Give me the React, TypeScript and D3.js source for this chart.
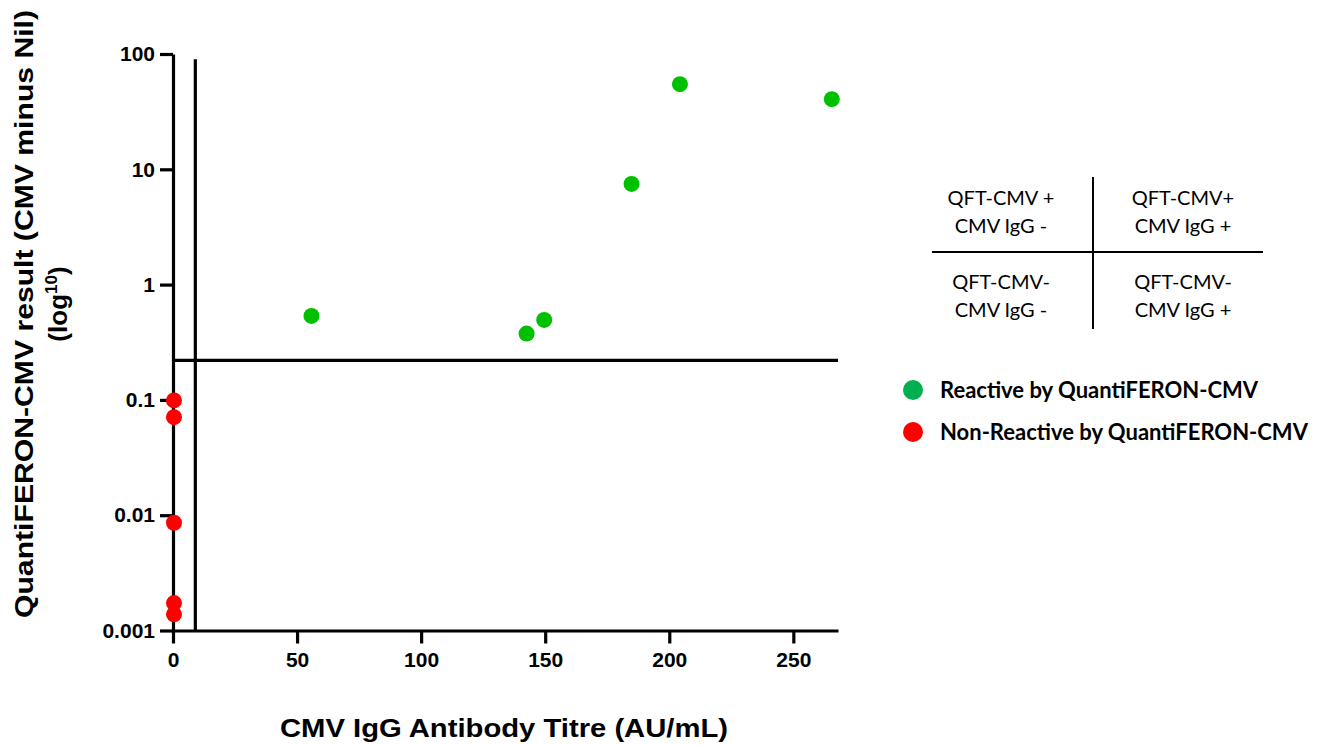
import React, { useRef, useEffect } from 'react';
import * as d3 from 'd3';

// CMV IgG titre (AU/mL) vs QuantiFERON-CMV result
const reactiveTitre = [55.8, 142.5, 149.6, 184.8, 204.3, 265.5];
const reactiveQft = [0.535, 0.376, 0.494, 7.47, 54.7, 40.6];
const nonReactiveTitre = [0.4, 0.4, 0.4, 0.4, 0.4];
const nonReactiveQft = [0.099, 0.0708, 0.0086, 0.00173, 0.00138];

const xTicks = [0, 50, 100, 150, 200, 250];
const yTicks = [100, 10, 1, 0.1, 0.01, 0.001];
const yTickLabels = ['100', '10', '1', '0.1', '0.01', '0.001'];

const qftCutoff = 0.22;
const iggCutoff = 9;

const quadrantText = [
  ['QFT-CMV +', 'CMV IgG -'],
  ['QFT-CMV+', 'CMV IgG +'],
  ['QFT-CMV-', 'CMV IgG -'],
  ['QFT-CMV-', 'CMV IgG +'],
];
const legendLabels = ['Reactive by QuantiFERON-CMV', 'Non-Reactive by QuantiFERON-CMV'];
const legendColors = ['#00b050', '#ff0000'];

function App() {
  const svgRef = useRef(null);

  useEffect(() => {
    const svg = d3.select(svgRef.current);
    svg.selectAll('*').remove();

    const x = d3.scaleLinear().domain([0, 268]).range([173, 838]);
    const y = d3.scaleLog().domain([0.001, 100]).range([630.5, 54]);
    const axisFont = 'Arial, "Liberation Sans", sans-serif';

    // y axis
    const yAxis = svg.append('g')
      .attr('transform', `translate(${x(0)},0)`)
      .call(d3.axisLeft(y).tickValues(yTicks).tickFormat((d, i) => yTickLabels[i]).tickSize(13).tickPadding(5).tickSizeOuter(0));
    yAxis.select('.domain').attr('stroke-width', 3.2).attr('stroke', '#000');
    yAxis.selectAll('.tick line').attr('stroke-width', 3.2);
    yAxis.selectAll('.tick text')
      .attr('font-family', axisFont).attr('font-weight', 'bold').attr('font-size', 21).attr('fill', '#000');

    // x axis
    const xAxis = svg.append('g')
      .attr('transform', `translate(0,${y(0.001)})`)
      .call(d3.axisBottom(x).tickValues(xTicks).tickSize(13).tickPadding(9).tickSizeOuter(0));
    xAxis.select('.domain').attr('stroke-width', 3.2).attr('stroke', '#000');
    xAxis.selectAll('.tick line').attr('stroke-width', 3.2);
    xAxis.selectAll('.tick text')
      .attr('font-family', axisFont).attr('font-weight', 'bold').attr('font-size', 21).attr('fill', '#000');

    // cutoff lines
    svg.append('line')
      .attr('x1', x(iggCutoff)).attr('x2', x(iggCutoff))
      .attr('y1', y(90)).attr('y2', y(0.001))
      .attr('stroke', '#000').attr('stroke-width', 3.2);
    svg.append('line')
      .attr('x1', x(0)).attr('x2', x(268))
      .attr('y1', y(qftCutoff)).attr('y2', y(qftCutoff))
      .attr('stroke', '#000').attr('stroke-width', 3.2);

    // points
    const green = reactiveTitre.map((t, i) => ({ t, q: reactiveQft[i] }));
    const red = nonReactiveTitre.map((t, i) => ({ t, q: nonReactiveQft[i] }));
    svg.selectAll('.green').data(green).join('circle')
      .attr('class', 'green')
      .attr('cx', d => x(d.t)).attr('cy', d => y(d.q)).attr('r', 8)
      .attr('fill', '#00c000');
    svg.selectAll('.red').data(red).join('circle')
      .attr('class', 'red')
      .attr('cx', d => x(d.t)).attr('cy', d => y(d.q)).attr('r', 8)
      .attr('fill', '#ff0000');

    // axis titles
    svg.append('text')
      .attr('x', 504).attr('y', 737)
      .attr('text-anchor', 'middle')
      .attr('font-family', axisFont).attr('font-weight', 'bold').attr('font-size', 26)
      .attr('textLength', 448).attr('lengthAdjust', 'spacingAndGlyphs')
      .text('CMV IgG Antibody Titre  (AU/mL)');

    const yt = svg.append('text')
      .attr('transform', 'translate(0,314) rotate(-90)')
      .attr('text-anchor', 'middle')
      .attr('font-family', axisFont).attr('font-weight', 'bold').attr('font-size', 26);
    yt.append('tspan').attr('x', 0).attr('y', 33)
      .attr('textLength', 608).attr('lengthAdjust', 'spacingAndGlyphs')
      .text('QuantiFERON-CMV result (CMV minus Nil)');
    const l2 = yt.append('tspan').attr('x', 10).attr('y', 67);
    l2.append('tspan').text('(log');
    l2.append('tspan').attr('dy', -10).attr('font-size', 17).text('10');
    l2.append('tspan').attr('dy', 10).text(')');

    // quadrant key
    const qFont = 'Lato, "Open Sans", sans-serif';
    const qx = [1001, 1183];
    const qy = [205, 289];
    quadrantText.forEach((lines, i) => {
      const cx = qx[i % 2];
      const cy = qy[Math.floor(i / 2)];
      lines.forEach((s, j) => {
        svg.append('text')
          .attr('x', cx).attr('y', cy + j * 28)
          .attr('text-anchor', 'middle')
          .attr('font-family', qFont).attr('font-size', 20).attr('fill', '#000')
          .text(s);
      });
    });
    svg.append('line').attr('x1', 932).attr('x2', 1263).attr('y1', 252).attr('y2', 252)
      .attr('stroke', '#000').attr('stroke-width', 2);
    svg.append('line').attr('x1', 1093).attr('x2', 1093).attr('y1', 177).attr('y2', 329)
      .attr('stroke', '#000').attr('stroke-width', 2);

    // legend
    legendLabels.forEach((s, i) => {
      const ly = 390 + i * 42;
      svg.append('circle').attr('cx', 913).attr('cy', ly).attr('r', 10).attr('fill', legendColors[i]);
      svg.append('text')
        .attr('x', 940).attr('y', ly + 8)
        .attr('font-family', qFont).attr('font-weight', 'bold').attr('font-size', 22).attr('fill', '#000')
        .text(s);
    });
  }, []);

  return (
    <div style={{ position: 'absolute', left: 0, top: 0 }}>
      <svg ref={svgRef} width={1327} height={745} style={{ display: 'block', background: '#fff' }}></svg>
    </div>
  );
}

export default App;
